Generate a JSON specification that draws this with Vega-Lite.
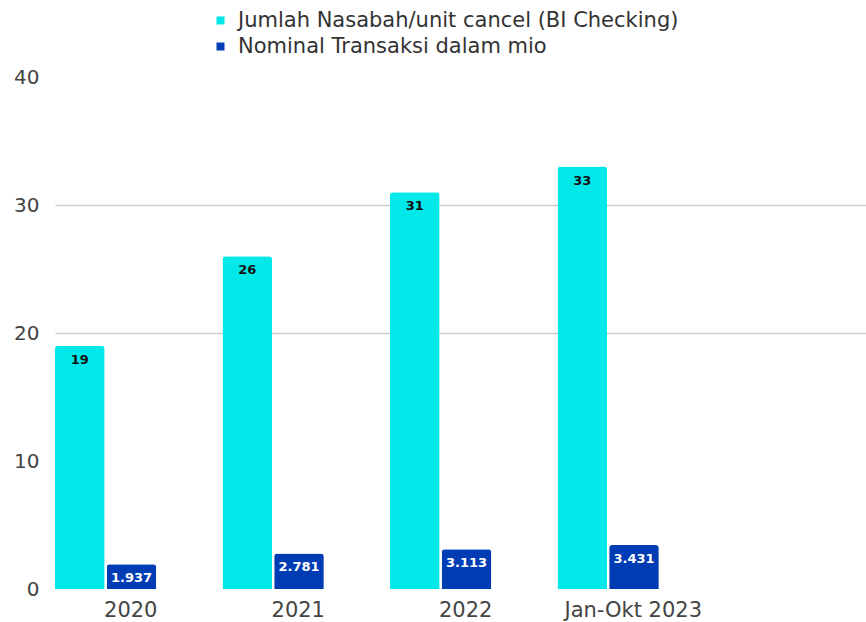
{
  "$schema": "https://vega.github.io/schema/vega-lite/v6.json",
  "width": 811,
  "height": 512,
  "autosize": {"type": "none"},
  "padding": {"left": 55, "top": 77, "right": 0, "bottom": 33},
  "background": "white",
  "config": {
    "view": {"stroke": null},
    "font": "DejaVu Sans"
  },
  "data": {
    "values": [
      {"periode": "2020", "series": "Jumlah Nasabah/unit cancel (BI Checking)", "value": 19, "label": "19"},
      {"periode": "2021", "series": "Jumlah Nasabah/unit cancel (BI Checking)", "value": 26, "label": "26"},
      {"periode": "2022", "series": "Jumlah Nasabah/unit cancel (BI Checking)", "value": 31, "label": "31"},
      {"periode": "Jan-Okt 2023", "series": "Jumlah Nasabah/unit cancel (BI Checking)", "value": 33, "label": "33"},
      {"periode": "2020", "series": "Nominal Transaksi dalam mio", "value": 1.937, "label": "1.937"},
      {"periode": "2021", "series": "Nominal Transaksi dalam mio", "value": 2.781, "label": "2.781"},
      {"periode": "2022", "series": "Nominal Transaksi dalam mio", "value": 3.113, "label": "3.113"},
      {"periode": "Jan-Okt 2023", "series": "Nominal Transaksi dalam mio", "value": 3.431, "label": "3.431"}
    ]
  },
  "encoding": {
    "x": {
      "field": "periode",
      "type": "nominal",
      "sort": ["2020", "2021", "2022", "Jan-Okt 2023"],
      "scale": {"paddingInner": 0, "paddingOuter": 0.421, "align": 0},
      "axis": {
        "title": null,
        "labelAngle": 0,
        "domain": false,
        "ticks": false,
        "labelFontSize": 21,
        "labelColor": "#444444",
        "labelPadding": 10,
        "labelOffset": -8
      }
    },
    "xOffset": {
      "field": "series",
      "type": "nominal",
      "scale": {
        "domain": ["Jumlah Nasabah/unit cancel (BI Checking)", "Nominal Transaksi dalam mio", "_"],
        "range": [0, 153],
        "paddingInner": 0.04,
        "paddingOuter": 0
      }
    },
    "y": {
      "field": "value",
      "type": "quantitative",
      "scale": {"domain": [0, 40], "nice": false},
      "axis": {
        "title": null,
        "values": [0, 10, 20, 30, 40],
        "domain": false,
        "ticks": false,
        "labelFontSize": 20,
        "labelColor": "#444444",
        "labelPadding": 16,
        "gridColor": "#cccccc",
        "gridWidth": 1.5,
        "gridOpacity": {"condition": {"test": "datum.value == 20 || datum.value == 30", "value": 1}, "value": 0}
      }
    }
  },
  "layer": [
    {
      "mark": {"type": "bar", "cornerRadiusTopLeft": 3, "cornerRadiusTopRight": 3},
      "encoding": {
        "color": {
          "field": "series",
          "type": "nominal",
          "scale": {
            "domain": ["Jumlah Nasabah/unit cancel (BI Checking)", "Nominal Transaksi dalam mio"],
            "range": ["#00E8E8", "#003DB5"]
          },
          "legend": {
            "title": null,
            "orient": "none",
            "legendX": 155,
            "legendY": -67,
            "direction": "vertical",
            "symbolType": "square",
            "symbolSize": 64,
            "symbolStrokeWidth": 0,
            "labelFontSize": 21,
            "labelColor": "#333333",
            "labelOffset": 7,
            "rowPadding": 4,
            "padding": 0,
            "labelLimit": 700
          }
        }
      }
    },
    {
      "mark": {"type": "text", "fontWeight": "bold", "fontSize": 13, "baseline": "middle", "dy": 14},
      "encoding": {
        "text": {"field": "label", "type": "nominal"},
        "color": {
          "condition": {"test": "datum.series == 'Nominal Transaksi dalam mio'", "value": "#ffffff"},
          "value": "#111111"
        }
      }
    }
  ]
}
